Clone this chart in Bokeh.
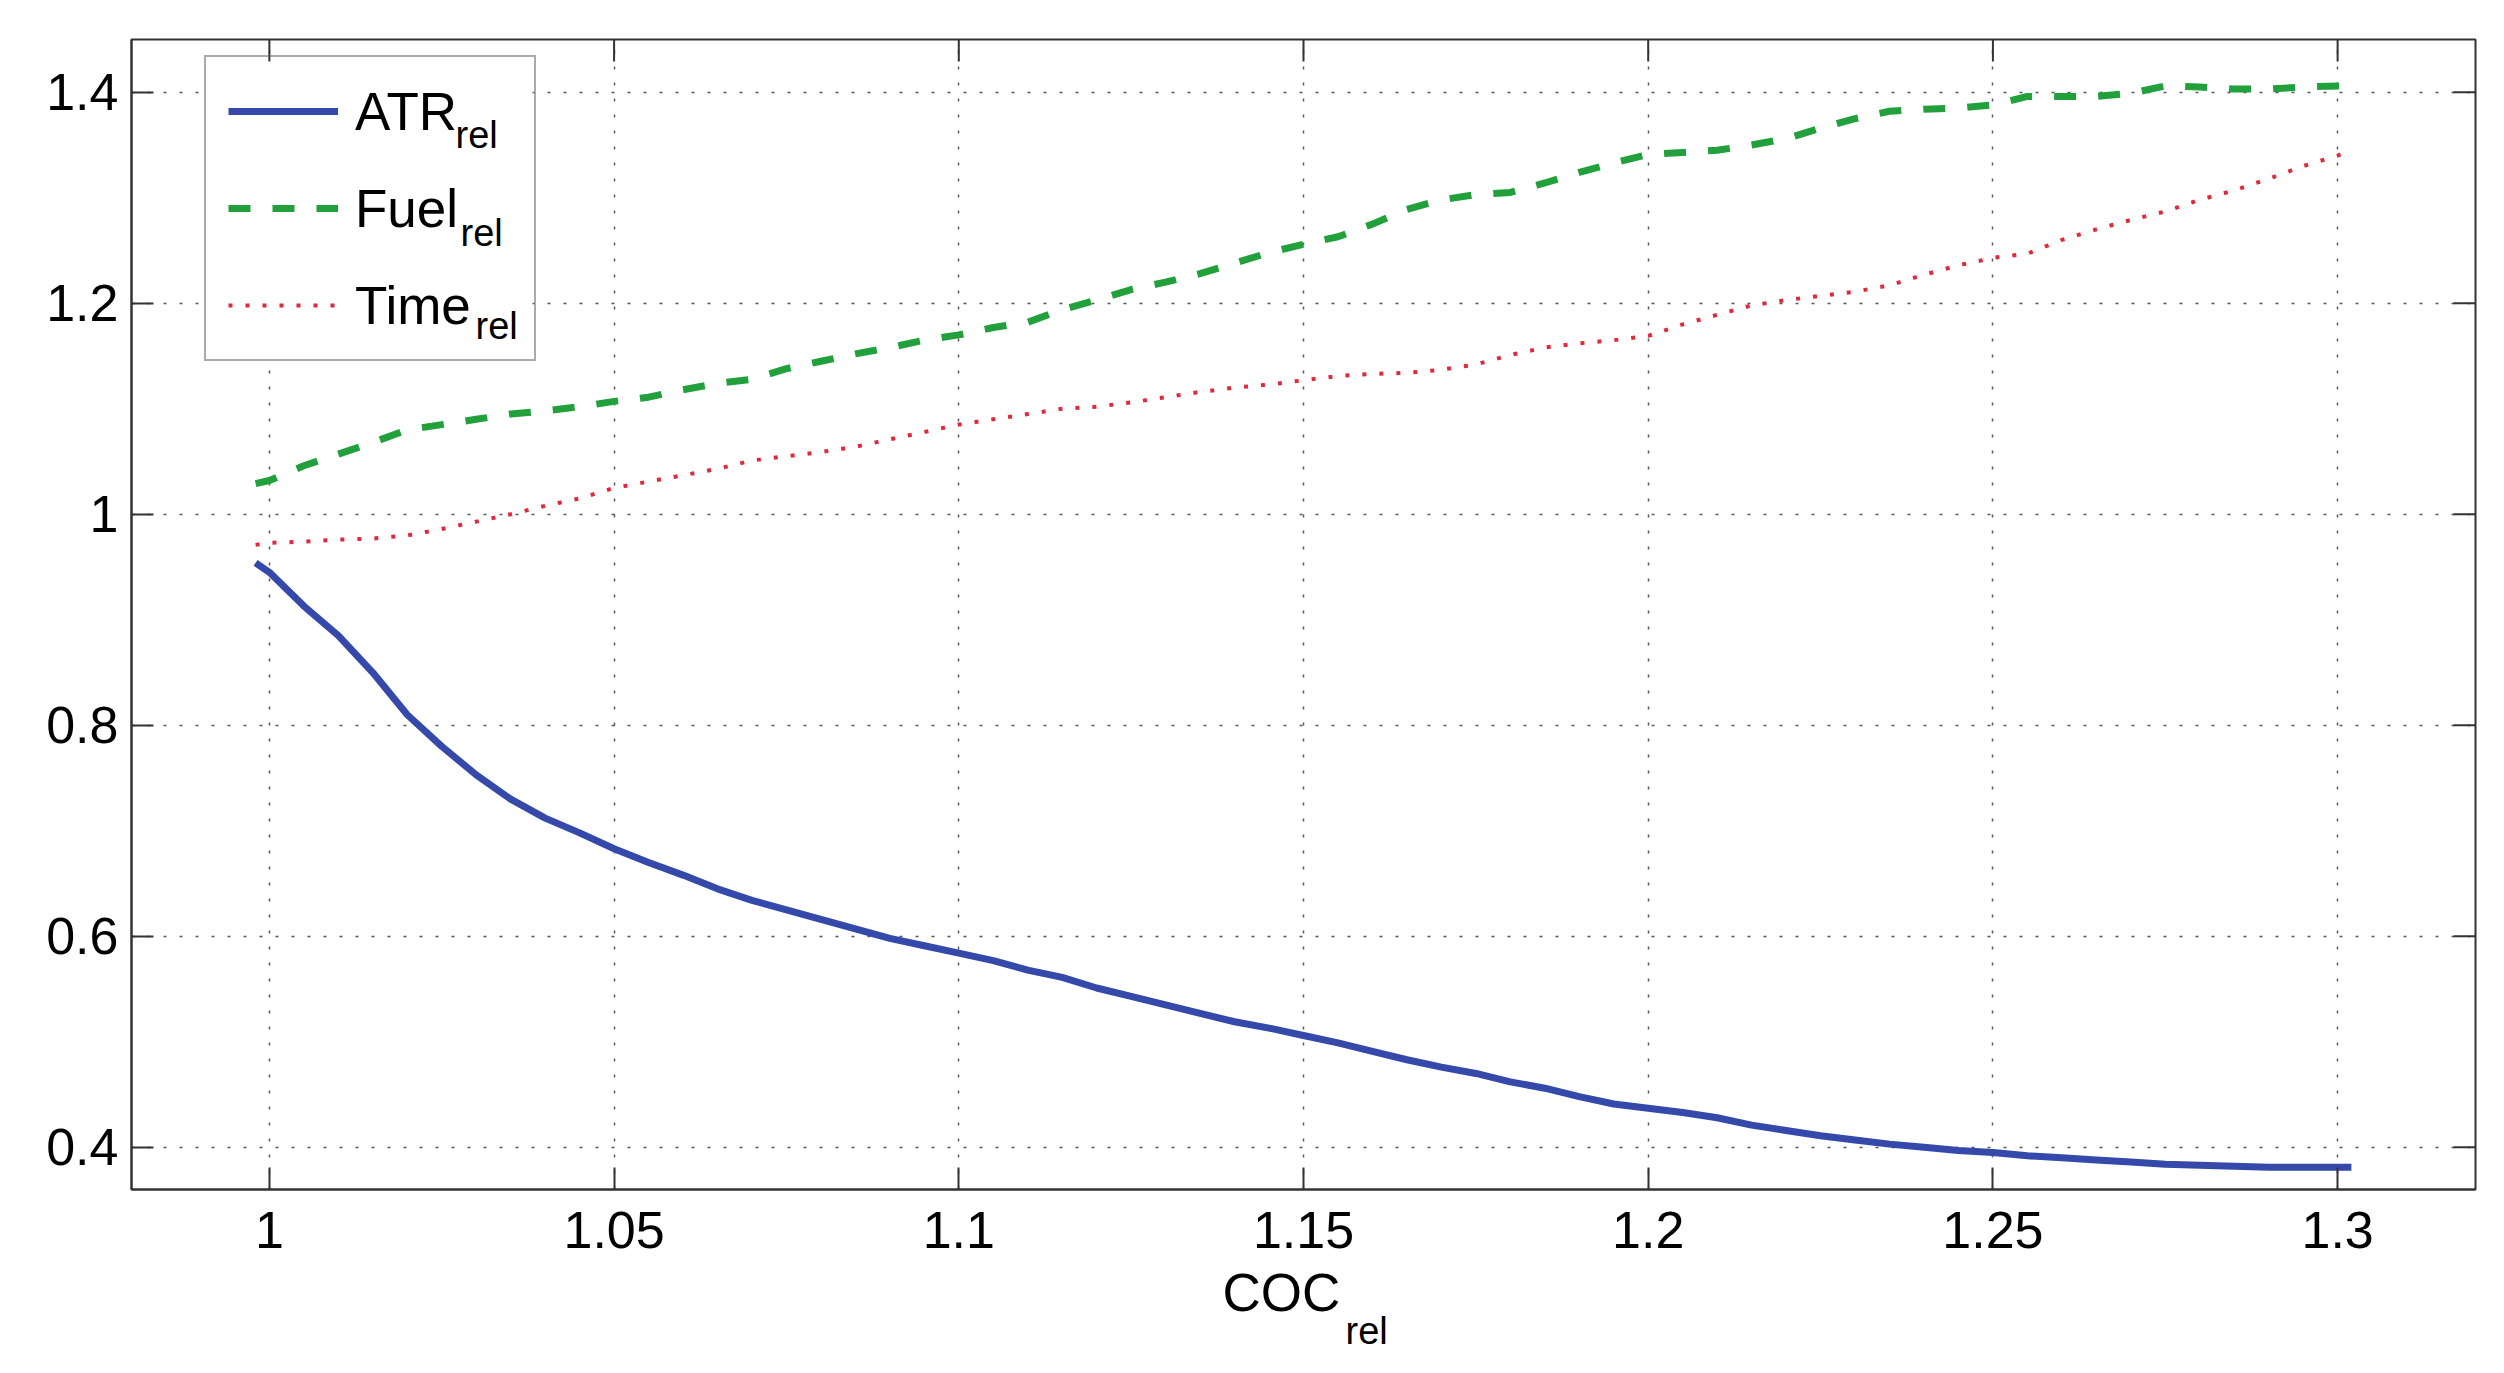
from bokeh.plotting import figure
from bokeh.models import (Range1d, FixedTicker, LinearAxis, Legend, LegendItem, Title)
from bokeh.core.properties import value
from bokeh.embed import file_html
from bokeh.resources import INLINE

# ---------------- data ----------------
coc_rel = [0.998, 1.000, 1.005, 1.010, 1.015, 1.020, 1.025, 1.030, 1.035, 1.040,
           1.045, 1.050, 1.055, 1.060, 1.065, 1.070, 1.075, 1.080, 1.085, 1.090,
           1.095, 1.100, 1.105, 1.110, 1.115, 1.120, 1.125, 1.130, 1.135, 1.140,
           1.145, 1.150, 1.155, 1.160, 1.165, 1.170, 1.175, 1.180, 1.185, 1.190,
           1.195, 1.200, 1.205, 1.210, 1.215, 1.220, 1.225, 1.230, 1.235, 1.240,
           1.245, 1.250, 1.255, 1.260, 1.265, 1.270, 1.275, 1.280, 1.285, 1.290,
           1.295, 1.300, 1.302]

atr_rel = [0.954, 0.945, 0.913, 0.885, 0.850, 0.810, 0.780, 0.753, 0.730, 0.712,
           0.698, 0.683, 0.670, 0.658, 0.645, 0.634, 0.625, 0.616, 0.607, 0.598,
           0.591, 0.584, 0.577, 0.568, 0.561, 0.551, 0.543, 0.535, 0.527, 0.519,
           0.513, 0.506, 0.499, 0.491, 0.483, 0.476, 0.470, 0.462, 0.456, 0.448,
           0.441, 0.437, 0.433, 0.428, 0.421, 0.416, 0.411, 0.407, 0.403, 0.400,
           0.397, 0.395, 0.392, 0.390, 0.388, 0.386, 0.384, 0.383, 0.382, 0.381,
           0.381, 0.381, 0.381]

fuel_rel = [1.029, 1.032, 1.046, 1.057, 1.068, 1.080, 1.085, 1.090, 1.095, 1.098,
            1.102, 1.107, 1.111, 1.118, 1.124, 1.128, 1.138, 1.145, 1.152, 1.158,
            1.165, 1.170, 1.177, 1.182, 1.194, 1.203, 1.213, 1.220, 1.228, 1.238,
            1.248, 1.256, 1.263, 1.275, 1.289, 1.298, 1.303, 1.305, 1.314, 1.324,
            1.333, 1.341, 1.343, 1.345, 1.350, 1.356, 1.366, 1.375, 1.382, 1.384,
            1.385, 1.388, 1.396, 1.396, 1.396, 1.399, 1.406, 1.405, 1.403, 1.403,
            1.405, 1.406, 1.406]

time_rel = [0.971, 0.973, 0.974, 0.976, 0.977, 0.980, 0.986, 0.993, 1.000, 1.008,
            1.015, 1.025, 1.031, 1.037, 1.043, 1.051, 1.055, 1.059, 1.064, 1.071,
            1.078, 1.085, 1.090, 1.095, 1.100, 1.102, 1.106, 1.111, 1.116, 1.120,
            1.123, 1.127, 1.131, 1.133, 1.134, 1.137, 1.142, 1.151, 1.158, 1.162,
            1.165, 1.169, 1.180, 1.189, 1.198, 1.203, 1.207, 1.211, 1.217, 1.227,
            1.236, 1.243, 1.247, 1.260, 1.270, 1.279, 1.287, 1.298, 1.307, 1.318,
            1.330, 1.340, 1.345]

x_ticks = [1.0, 1.05, 1.1, 1.15, 1.2, 1.25, 1.3]
x_tick_labels = ["1", "1.05", "1.1", "1.15", "1.2", "1.25", "1.3"]
y_ticks = [0.4, 0.6, 0.8, 1.0, 1.2, 1.4]
y_tick_labels = ["0.4", "0.6", "0.8", "1", "1.2", "1.4"]

series_names = ["ATR", "Fuel", "Time"]
subscript = "rel"
x_title = "COC"

# ---------------- layout ----------------
X0, X1 = 0.98, 1.32
Y0, Y1 = 0.36, 1.45
W, H = 2488, 1357
FL, FR, FT, FB = 131, 2475, 39, 1189   # frame edges in figure pixels
FW, FH = FR - FL, FB - FT

FONT = "Liberation Sans"
C_BLUE = "#3449aa"
C_GREEN = "#22a03c"
C_RED = "#de2a3c"
AX_COL = "#333333"
TICK_LEN = 22

p = figure(width=W, height=H, frame_width=FW, frame_height=FH,
           output_backend="svg", toolbar_location=None,
           x_range=Range1d(X0, X1), y_range=Range1d(Y0, Y1),
           min_border_left=FL, min_border_right=W - FR,
           min_border_top=FT, min_border_bottom=H - FB,
           x_axis_location=None, y_axis_location=None)
p.background_fill_color = "white"
p.border_fill_color = "white"
p.outline_line_color = AX_COL
p.outline_line_width = 2


def style_axis(ax, ticks, labels):
    ax.ticker = FixedTicker(ticks=ticks)
    ax.major_label_overrides = {t: l for t, l in zip(ticks, labels)}
    ax.minor_tick_line_color = None
    ax.major_tick_in = TICK_LEN
    ax.major_tick_out = 0
    ax.major_tick_line_color = AX_COL
    ax.major_tick_line_width = 2
    ax.axis_line_color = AX_COL
    ax.axis_line_width = 2
    ax.major_label_text_font = FONT
    ax.major_label_text_font_size = "52px"
    ax.major_label_text_color = "black"


xb = LinearAxis()
style_axis(xb, x_ticks, x_tick_labels)
xb.major_label_standoff = 22
# trailing no-break spaces keep "COC" + subscript centred as one title
xb.axis_label = x_title + "\u00a0\u00a0\u00a0"
xb.axis_label_text_font = FONT
xb.axis_label_text_font_size = "53px"
xb.axis_label_text_font_style = "normal"
xb.axis_label_text_color = "black"
xb.axis_label_standoff = 12
p.add_layout(xb, "below")

yl = LinearAxis()
style_axis(yl, y_ticks, y_tick_labels)
yl.major_label_standoff = 13
p.add_layout(yl, "left")

# subscript of the x-axis title, placed in the panel below the axis
p.add_layout(Title(text=subscript, align="left", offset=1214,
                   text_font=FONT, text_font_size="38px", text_font_style="normal",
                   text_color="black", standoff=-33), "below")

# grid (MATLAB-like dotted)
for g, ticks in ((p.xgrid, x_ticks), (p.ygrid, y_ticks)):
    g.ticker = FixedTicker(ticks=ticks)
    g.grid_line_color = "#222222"
    g.grid_line_alpha = 0.75
    g.grid_line_width = 1.5
    g.grid_line_dash = "3 13"


# figure pixel -> data (for the legend decorations inside the frame)
def dx(px):
    return X0 + (px - FL) / FW * (X1 - X0)


def dy(py):
    return Y1 - (py - FT) / FH * (Y1 - Y0)


# opaque white background of the legend box (hides the grid behind it)
LEG_BOX = (204, 59, 532, 361)   # left, top, right, bottom in figure pixels
p.quad(left=[dx(LEG_BOX[0])], right=[dx(LEG_BOX[2])],
       top=[dy(LEG_BOX[1])], bottom=[dy(LEG_BOX[3])],
       fill_color="white", line_color=None)

# inward ticks on the top and right edges of the box (from the tick lists)
tlen_y = TICK_LEN / FH * (Y1 - Y0)
tlen_x = TICK_LEN / FW * (X1 - X0)
p.segment(x0=x_ticks, y0=[Y1] * len(x_ticks), x1=x_ticks, y1=[Y1 - tlen_y] * len(x_ticks),
          line_color=AX_COL, line_width=2)
p.segment(x0=[X1] * len(y_ticks), y0=y_ticks, x1=[X1 - tlen_x] * len(y_ticks), y1=y_ticks,
          line_color=AX_COL, line_width=2)

r_atr = p.line(coc_rel, atr_rel, line_color=C_BLUE, line_width=7)
r_fuel = p.line(coc_rel, fuel_rel, line_color=C_GREEN, line_width=7, line_dash="22 22")
r_time = p.line(coc_rel, time_rel, line_color=C_RED, line_width=4, line_dash="4 13")

legend = Legend(items=[LegendItem(label=series_names[0], renderers=[r_atr]),
                       LegendItem(label=series_names[1], renderers=[r_fuel]),
                       LegendItem(label=series_names[2], renderers=[r_time])],
                location=(LEG_BOX[0] - FL, FB - LEG_BOX[3]), orientation="vertical",
                padding=22, spacing=33, margin=0,
                glyph_width=110, glyph_height=64, label_height=64,
                label_width=157, label_standoff=17,
                label_text_font=FONT, label_text_font_size="53px",
                label_text_color="black",
                border_line_color="#555555", border_line_width=2,
                background_fill_alpha=0.0)
p.add_layout(legend)

# legend subscripts
sub_px = [(455, 134), (460, 232), (475, 325)]
p.text(x=[dx(a) for a, b in sub_px], y=[dy(b) for a, b in sub_px],
       text=[subscript] * len(sub_px), text_font=value(FONT),
       text_font_size=value("38px"), text_color="black",
       text_baseline="alphabetic", text_align="left")

open("out.html", "w").write(file_html(p, INLINE))
